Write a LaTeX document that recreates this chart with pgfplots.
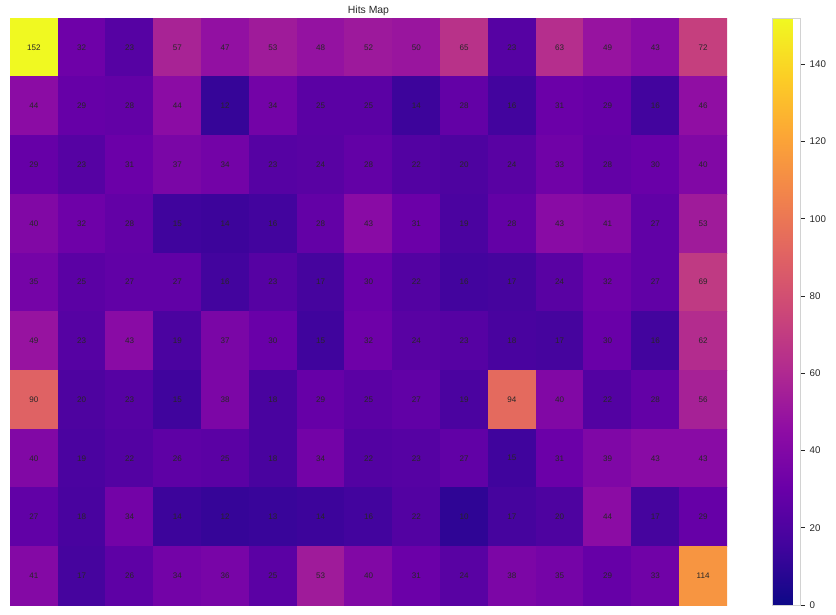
\documentclass[border=0pt]{standalone}
\usepackage{fontspec}
\setmainfont{Liberation Sans}
\usepackage{pgfplots}
\usepackage{pgfplotstable}
\pgfplotsset{compat=1.18}
\definecolor{txt}{HTML}{262626}
\pgfplotsset{colormap={plasma}{
  rgb255=(13,8,135) rgb255=(65,4,157) rgb255=(106,0,168) rgb255=(143,13,164)
  rgb255=(177,42,144) rgb255=(204,71,120) rgb255=(225,100,98) rgb255=(242,132,75)
  rgb255=(252,166,54) rgb255=(252,206,37) rgb255=(240,249,33)}}

% x = column, y = row (row 0 at top), v = hits
\pgfplotstableread[row sep=\\]{
x y v\\
0 0 152\\ 1 0 32\\ 2 0 23\\ 3 0 57\\ 4 0 47\\ 5 0 53\\ 6 0 48\\ 7 0 52\\ 8 0 50\\ 9 0 65\\ 10 0 23\\ 11 0 63\\ 12 0 49\\ 13 0 43\\ 14 0 72\\
0 1 44\\ 1 1 29\\ 2 1 28\\ 3 1 44\\ 4 1 12\\ 5 1 34\\ 6 1 25\\ 7 1 25\\ 8 1 14\\ 9 1 28\\ 10 1 16\\ 11 1 31\\ 12 1 29\\ 13 1 16\\ 14 1 46\\
0 2 29\\ 1 2 23\\ 2 2 31\\ 3 2 37\\ 4 2 34\\ 5 2 23\\ 6 2 24\\ 7 2 28\\ 8 2 22\\ 9 2 20\\ 10 2 24\\ 11 2 33\\ 12 2 28\\ 13 2 30\\ 14 2 40\\
0 3 40\\ 1 3 32\\ 2 3 28\\ 3 3 15\\ 4 3 14\\ 5 3 16\\ 6 3 28\\ 7 3 43\\ 8 3 31\\ 9 3 19\\ 10 3 28\\ 11 3 43\\ 12 3 41\\ 13 3 27\\ 14 3 53\\
0 4 35\\ 1 4 25\\ 2 4 27\\ 3 4 27\\ 4 4 16\\ 5 4 23\\ 6 4 17\\ 7 4 30\\ 8 4 22\\ 9 4 16\\ 10 4 17\\ 11 4 24\\ 12 4 32\\ 13 4 27\\ 14 4 69\\
0 5 49\\ 1 5 23\\ 2 5 43\\ 3 5 19\\ 4 5 37\\ 5 5 30\\ 6 5 15\\ 7 5 32\\ 8 5 24\\ 9 5 23\\ 10 5 18\\ 11 5 17\\ 12 5 30\\ 13 5 16\\ 14 5 62\\
0 6 90\\ 1 6 20\\ 2 6 23\\ 3 6 15\\ 4 6 38\\ 5 6 18\\ 6 6 29\\ 7 6 25\\ 8 6 27\\ 9 6 19\\ 10 6 94\\ 11 6 40\\ 12 6 22\\ 13 6 28\\ 14 6 56\\
0 7 40\\ 1 7 19\\ 2 7 22\\ 3 7 26\\ 4 7 25\\ 5 7 18\\ 6 7 34\\ 7 7 22\\ 8 7 23\\ 9 7 27\\ 10 7 15\\ 11 7 31\\ 12 7 39\\ 13 7 43\\ 14 7 43\\
0 8 27\\ 1 8 18\\ 2 8 34\\ 3 8 14\\ 4 8 12\\ 5 8 13\\ 6 8 14\\ 7 8 16\\ 8 8 22\\ 9 8 10\\ 10 8 17\\ 11 8 20\\ 12 8 44\\ 13 8 17\\ 14 8 29\\
0 9 41\\ 1 9 17\\ 2 9 26\\ 3 9 34\\ 4 9 36\\ 5 9 25\\ 6 9 53\\ 7 9 40\\ 8 9 31\\ 9 9 24\\ 10 9 38\\ 11 9 35\\ 12 9 29\\ 13 9 33\\ 14 9 114\\
}\hits

\begin{document}
\begin{tikzpicture}
\useasboundingbox (-7.2pt,-6.48pt) rectangle (594.72pt,435.6pt);
\begin{axis}[
    scale only axis,
    width=516.24pt,
    height=422.64pt,
    at={(0,0)}, anchor=south west,
    axis lines=none,
    xtick=\empty, ytick=\empty,
    xmin=-0.5, xmax=14.5,
    ymin=-0.5, ymax=9.5,
    y dir=reverse,
    enlargelimits=false,
    colormap name=plasma,
    point meta min=0, point meta max=152,
    title={Hits Map},
    title style={font=\fontsize{7.5}{9}\selectfont, text=txt, inner sep=1.5pt, yshift=-6pt},
    colorbar,
    colorbar style={
        at={(parent axis.north east)}, anchor=north west, xshift=24.5pt,
        width=20pt,
        ytick={0,20,...,140},
        ytick pos=right,
        yticklabel pos=right,
        yticklabel style={font=\fontsize{7}{8}\selectfont, text=txt},
        tick style={draw=txt, line width=0.5pt},
        major tick length=3pt,
        tick align=outside,
        axis line style={draw=gray!35, line width=0.6pt},
        /pgf/number format/assume math mode=true,
    },
]
\addplot[matrix plot*, mesh/cols=15, point meta=\thisrow{v}] table {\hits};
\addplot[only marks, mark=none, point meta=\thisrow{v},
    nodes near coords={\pgfmathprintnumber[fixed,precision=0,assume math mode=true]{\pgfplotspointmeta}},
    nodes near coords align=center,
    every node near coord/.append style={font=\fontsize{5.8}{6}\selectfont, text=txt}]
    table {\hits};
\end{axis}
\end{tikzpicture}
\end{document}
